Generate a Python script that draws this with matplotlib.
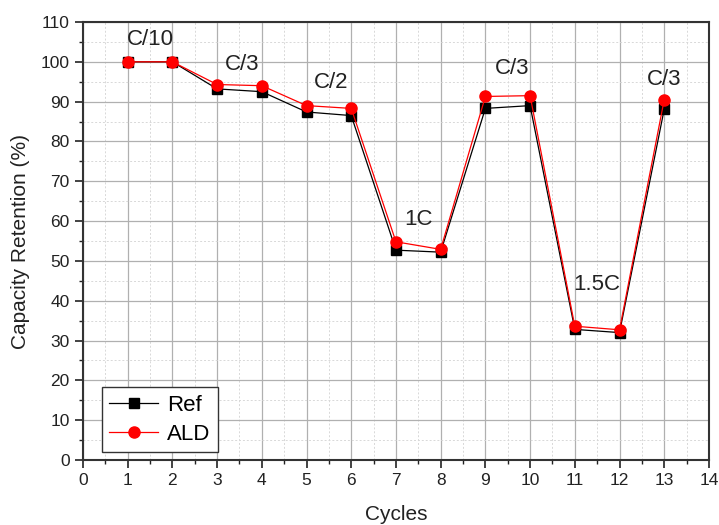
import matplotlib
matplotlib.use("Agg")
import matplotlib.pyplot as plt
from matplotlib.ticker import MultipleLocator

plt.rcParams["font.family"] = ["Liberation Sans", "DejaVu Sans"]

cycles = [1, 2, 3, 4, 5, 6, 7, 8, 9, 10, 11, 12, 13]
ref = [100.0, 100.0, 93.2, 92.5, 87.4, 86.5, 52.7, 52.2, 88.3, 89.0, 32.8, 32.0, 88.1]
ald = [100.0, 100.0, 94.3, 94.0, 89.0, 88.3, 54.8, 52.9, 91.3, 91.5, 33.6, 32.7, 90.5]
rate_labels = ["C/10", "C/3", "C/2", "1C", "C/3", "1.5C", "C/3"]
label_x = [1.5, 3.55, 5.55, 7.5, 9.6, 11.5, 13.0]
label_y = [105.5, 99.3, 94.8, 60.5, 98.3, 44.0, 95.5]

fig = plt.figure(figsize=(7.19, 5.25), dpi=100)
ax = fig.add_axes([0.1154, 0.1238, 0.8706, 0.8343])

ax.plot(cycles, ref, color="black", lw=0.9, marker="s", ms=7, label="Ref", zorder=3)
ax.plot(cycles, ald, color="red", lw=0.9, marker="o", ms=8, label="ALD", zorder=4)

for t, x, y in zip(rate_labels, label_x, label_y):
    ax.text(x, y, t, ha="center", va="center", fontsize=16, color="#222222")

ax.set_xlim(0, 14)
ax.set_ylim(0, 110)
ax.xaxis.set_major_locator(MultipleLocator(1))
ax.xaxis.set_minor_locator(MultipleLocator(0.5))
ax.yaxis.set_major_locator(MultipleLocator(10))
ax.yaxis.set_minor_locator(MultipleLocator(5))
ax.grid(which="major", color="#b0b0b0", lw=0.9)
ax.grid(which="minor", color="#d8d8d8", lw=0.7, ls=(0, (2, 2)))
ax.set_axisbelow(True)
ax.tick_params(which="major", direction="out", length=6, width=1.2, labelsize=12.5, colors="#222222")
ax.tick_params(which="minor", direction="out", length=3, width=1.0, colors="#222222")
for s in ax.spines.values():
    s.set_linewidth(1.5)
    s.set_color("#333333")

ax.set_xlabel("Cycles", fontsize=15, color="#222222", labelpad=12)
ax.set_ylabel("Capacity Retention (%)", fontsize=15, color="#222222", labelpad=8)

leg = ax.legend(loc="lower left", bbox_to_anchor=(0.012, -0.008), fontsize=16, fancybox=False,
                edgecolor="#333333", framealpha=1, handlelength=2.2, borderpad=0.35,
                labelspacing=0.35, handletextpad=0.4, borderaxespad=0.5)
leg.get_frame().set_linewidth(1.0)

fig.savefig("out.png", dpi=100)
plt.close(fig)
